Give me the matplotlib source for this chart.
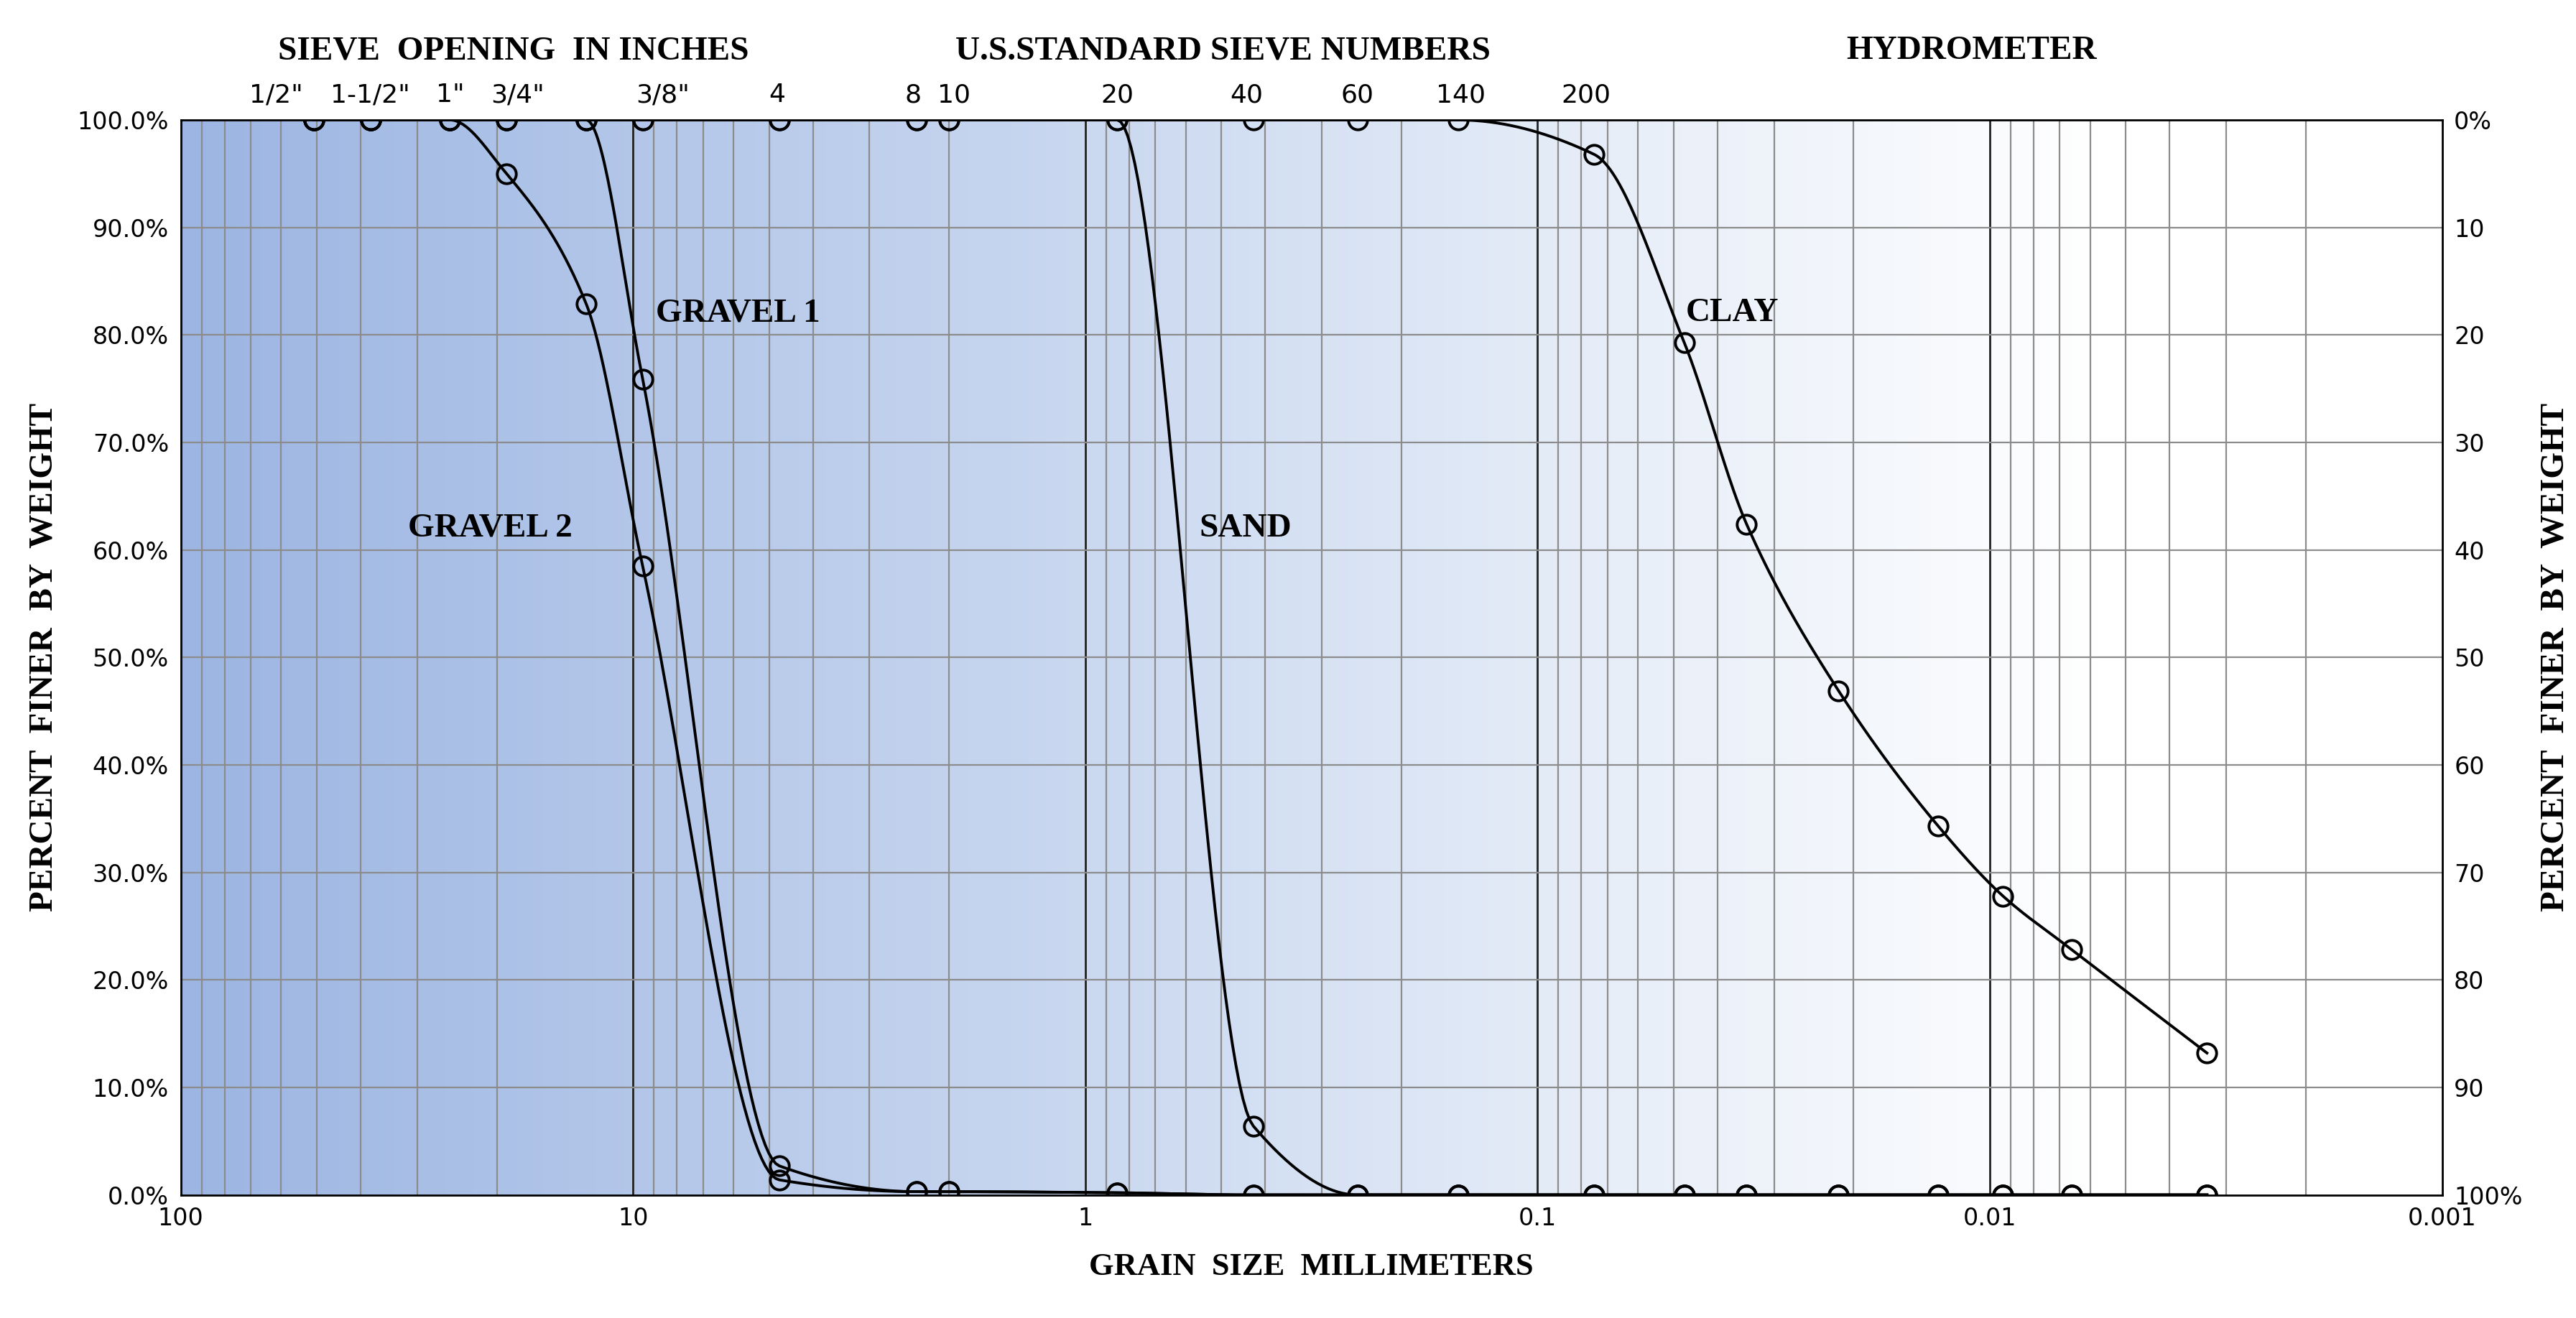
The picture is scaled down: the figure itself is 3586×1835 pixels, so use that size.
import numpy as np
import matplotlib.pyplot as plt
from matplotlib.colors import LinearSegmentedColormap

# sieve / hydrometer sizes (mm)
sizes = [50.8, 38.1, 25.4, 19.05, 12.7, 9.525, 4.75, 2.36, 2.0, 0.85, 0.425, 0.25,
         0.15, 0.075, 0.0474, 0.0345, 0.0216, 0.013, 0.00935, 0.00658, 0.00331]

gravel1 = [100, 100, 100, 100, 100, 75.9, 2.7, 0.3, 0.3, 0.2, 0, 0, 0, 0, 0, 0, 0, 0, 0, 0, 0]
gravel2 = [100, 100, 100, 95.0, 82.9, 58.5, 1.4, 0.3, 0.3, 0.2, 0, 0, 0, 0, 0, 0, 0, 0, 0, 0, 0]
sand = [100, 100, 100, 100, 100, 100, 100, 100, 100, 100, 6.4, 0, 0, 0, 0, 0, 0, 0, 0, 0, 0]
clay = [100, 100, 100, 100, 100, 100, 100, 100, 100, 100, 100, 100, 100, 96.8, 79.3,
        62.4, 46.9, 34.3, 27.8, 22.8, 13.2]

# top sieve labels and where they sit
top_labels = ['1/2"', '1-1/2"', '1"', '3/4"', '3/8"', '4', '8', '10', '20', '40', '60', '140', '200']
top_pos = [61.5, 38.1, 25.4, 18.0, 8.6, 4.8, 2.4, 1.95, 0.85, 0.44, 0.25, 0.148, 0.078]

series_labels = ['GRAVEL 1', 'GRAVEL 2', 'SAND', 'CLAY']
label_xy = [(8.9, 82), (31.5, 62), (0.56, 62), (0.047, 82)]

serif = 'Liberation Serif'


def smooth(x, y, n=40):
    """Monotone cubic (Fritsch-Carlson) through points, in log10 x."""
    lx = np.log10(x)[::-1]
    yy = np.array(y, dtype=float)[::-1]
    h = np.diff(lx)
    d = np.diff(yy) / h
    m = np.zeros_like(yy)
    m[0], m[-1] = d[0], d[-1]
    for i in range(1, len(yy) - 1):
        if d[i - 1] * d[i] <= 0:
            m[i] = 0
        else:
            w1 = 2 * h[i] + h[i - 1]
            w2 = h[i] + 2 * h[i - 1]
            m[i] = (w1 + w2) / (w1 / d[i - 1] + w2 / d[i])
    xs, ys = [], []
    for i in range(len(h)):
        t = np.linspace(0, 1, n)
        h00 = 2 * t**3 - 3 * t**2 + 1
        h10 = t**3 - 2 * t**2 + t
        h01 = -2 * t**3 + 3 * t**2
        h11 = t**3 - t**2
        xs.append(lx[i] + t * h[i])
        ys.append(h00 * yy[i] + h10 * h[i] * m[i] + h01 * yy[i + 1] + h11 * h[i] * m[i + 1])
    return 10 ** np.concatenate(xs), np.concatenate(ys)


fig = plt.figure(figsize=(35.86, 18.35), dpi=100)
ax = fig.add_axes([0.0702, 0.0934, 0.8778, 0.8156])

# gradient background
cmap = LinearSegmentedColormap.from_list(
    'bg', [(0, '#9cb5e2'), (0.4, '#cad8f0'), (0.62, '#e6edf8'), (0.85, '#ffffff'), (1, '#ffffff')])
grad = np.linspace(0, 1, 512).reshape(1, -1)
ax.imshow(grad, cmap=cmap, aspect='auto', extent=[0, 1, 0, 1],
          transform=ax.transAxes, zorder=0)

ax.set_xscale('log')
ax.set_xlim(100, 0.001)
ax.set_ylim(0, 100)

# grid
for dec in [10, 1, 0.1, 0.01, 0.001]:
    for k in range(2, 10):
        ax.axvline(dec * k, color='#8c8c8c', lw=1.6, zorder=1)
for dec in [10, 1, 0.1, 0.01]:
    ax.axvline(dec, color='#222222', lw=2.0, zorder=1)
for yv in range(10, 100, 10):
    ax.axhline(yv, color='#8c8c8c', lw=1.6, zorder=1)

for ys in [gravel1, gravel2, sand, clay]:
    sx, sy = smooth(sizes, ys)
    ax.plot(sx, sy, color='black', lw=2.8, zorder=3)
    ax.plot(sizes, ys, 'o', mfc='none', mec='black', ms=19, mew=2.8, zorder=4)

ax.set_xticks([100, 10, 1, 0.1, 0.01, 0.001])
ax.set_xticklabels(['100', '10', '1', '0.1', '0.01', '0.001'])
ax.minorticks_off()
ax.set_yticks(range(0, 101, 10))
ax.set_yticklabels(['%.1f%%' % v for v in range(0, 101, 10)])
ax.tick_params(labelsize=24, length=0, pad=12)
for s in ax.spines.values():
    s.set_color('black')
    s.set_linewidth(2)

ax2 = ax.twinx()
ax2.set_ylim(100, 0)
ax2.set_yticks(range(0, 101, 10))
ax2.set_yticklabels(['0%'] + [str(v) for v in range(10, 100, 10)] + ['100%'])
ax2.tick_params(labelsize=24, length=0, pad=12)

ax.set_xlabel('GRAIN  SIZE  MILLIMETERS', fontsize=32, fontweight='bold',
              family=serif, labelpad=22)
ax.set_ylabel('PERCENT  FINER  BY  WEIGHT', fontsize=34, fontweight='bold',
              family=serif, labelpad=18)
ax2.set_ylabel('PERCENT  FINER  BY  WEIGHT', fontsize=34, fontweight='bold',
               family=serif, labelpad=18)

for lab, xv in zip(top_labels, top_pos):
    ax.text(xv, 101.2, lab, ha='center', va='bottom', fontsize=26, clip_on=False)

ax.text(0.147, 1.05, 'SIEVE  OPENING  IN INCHES', transform=ax.transAxes, ha='center',
        va='bottom', fontsize=34, fontweight='bold', family=serif)
ax.text(0.461, 1.05, 'U.S.STANDARD SIEVE NUMBERS', transform=ax.transAxes, ha='center',
        va='bottom', fontsize=34, fontweight='bold', family=serif)
ax.text(0.792, 1.05, 'HYDROMETER', transform=ax.transAxes, ha='center',
        va='bottom', fontsize=34, fontweight='bold', family=serif)

for lab, (xv, yv) in zip(series_labels, label_xy):
    ax.text(xv, yv, lab, ha='left', va='center', fontsize=34, fontweight='bold',
            family=serif, zorder=5)

fig.savefig('out.png', dpi=100)
